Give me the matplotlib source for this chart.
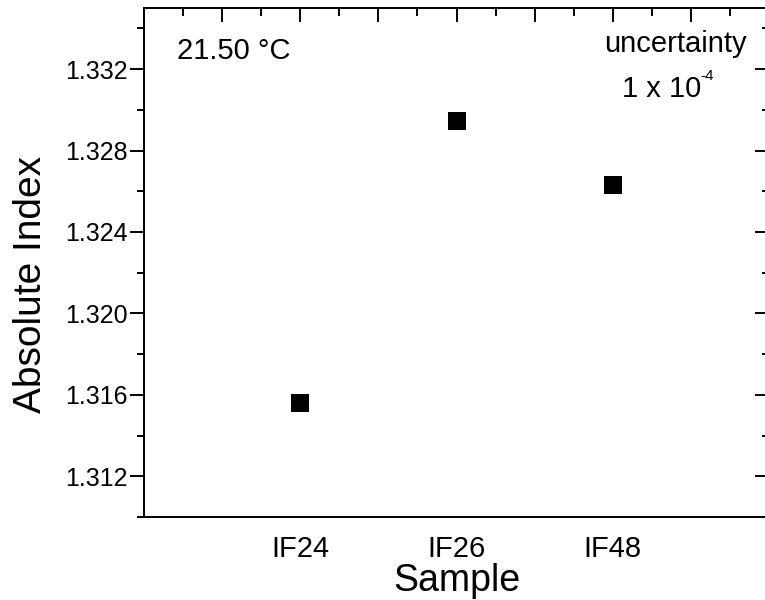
from matplotlib import pyplot as plt
from matplotlib.ticker import MultipleLocator, FixedLocator
import numpy as np

samples = ['IF24', 'IF26', 'IF48']
x_pos = [1, 2, 3]
index_vals = [1.3156, 1.32946, 1.32633]
y_major = [1.312, 1.316, 1.320, 1.324, 1.328, 1.332]
temp_label = '21.50 °C'
unc_line1 = 'uncertainty'
unc_line2 = '1 x 10'
unc_exp = '-4'

plt.rcParams['font.family'] = ['Liberation Sans', 'DejaVu Sans']

fig = plt.figure(figsize=(7.65, 6.0), dpi=100)
# axes runs a little past the right edge, like the reference crop
ax = fig.add_axes([144 / 765, 83 / 600, 625 / 765, 509 / 600])

ax.plot(x_pos, index_vals, 's', color='black', markersize=12.5, markeredgewidth=0)

ax.set_xlim(0, 4)
ax.set_ylim(1.310, 1.335)

for s in ax.spines.values():
    s.set_linewidth(1.4)

ax.yaxis.set_major_locator(FixedLocator(y_major))
ax.yaxis.set_minor_locator(MultipleLocator(0.002))
ax.set_yticklabels(['%.3f' % v for v in y_major])
ax.tick_params(axis='y', which='major', direction='out', length=10, width=1.4,
               labelsize=18, pad=2, right=True)
ax.tick_params(axis='y', which='minor', direction='out', length=5, width=1.4, right=True)
# right-side ticks point inward
for t in ax.yaxis.get_major_ticks() + ax.yaxis.get_minor_ticks():
    t.tick2line.set_marker(0)

ax.set_xticks(x_pos)
ax.set_xticklabels(samples)
ax.tick_params(axis='x', which='major', length=0, labelsize=21, pad=13)

# top ticks: major every 0.5, minor every 0.25, pointing down
top_major = np.arange(0, 4.01, 0.5)
top_minor = np.arange(0.25, 4.0, 0.5)
ax.plot(top_major, [1.335] * len(top_major), linestyle='none', marker=3,
        markersize=10, markeredgewidth=1.4, color='black', clip_on=False)
ax.plot(top_minor, [1.335] * len(top_minor), linestyle='none', marker=3,
        markersize=5.5, markeredgewidth=1.4, color='black', clip_on=False)

ax.set_xlabel('Sample', fontsize=27, labelpad=0)
ax.set_ylabel('Absolute Index', fontsize=28)
ax.yaxis.set_label_coords(-0.152, 0.456)

ax.text(0.053, 0.915, temp_label, transform=ax.transAxes, fontsize=21, va='center', ha='left')
ax.text(0.85, 0.93, unc_line1, transform=ax.transAxes, fontsize=21, va='center', ha='center')
ax.text(0.765, 0.825, unc_line2, transform=ax.transAxes, fontsize=21, va='baseline', ha='left')
ax.text(0.890, 0.8585, unc_exp, transform=ax.transAxes, fontsize=11, va='baseline', ha='left')

plt.savefig('out.png', dpi=100)
